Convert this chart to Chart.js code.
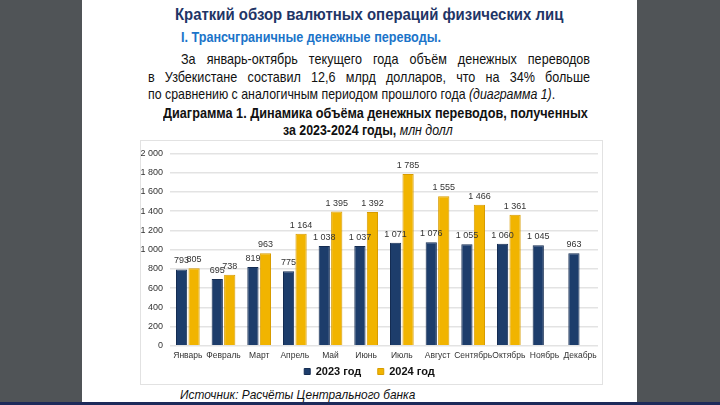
<!DOCTYPE html>
<html>
<head>
<meta charset="utf-8">
<script src="https://cdn.jsdelivr.net/npm/chart.js@4.4.1/dist/chart.umd.min.js"></script>
<style>
  html, body { margin: 0; padding: 0; }
  body { width: 720px; height: 405px; background: #505457; position: relative; overflow: hidden; }
  #page { position: absolute; left: 82px; top: 0; width: 555px; height: 405px; background: #fff; }
  #bottomline { position: absolute; left: 0; top: 402px; width: 720px; height: 3px; background: #1d2a5a; }
  .t { position: absolute; font-family: "Liberation Sans", Arial, sans-serif; white-space: nowrap; transform-origin: 0 0; }
  .j { position: absolute; font-family: "Liberation Sans", Arial, sans-serif; text-align: justify; text-align-last: justify; white-space: normal; transform-origin: 0 0; color: #111; }
  #box { position: absolute; left: 58px; top: 140px; width: 461px; height: 243px; border: 1px solid #e2e2e2; }
</style>
</head>
<body>
<div id="page">
  <div class="t" data-x="93" data-y="14" data-w="388" data-f="17" style="font-weight:bold;color:#1f3566">Краткий обзор валютных операций физических лиц</div>
  <div class="t" data-x="99" data-y="36" data-w="260" data-f="15" style="font-weight:bold;color:#1b74c9">I. Трансчграничные денежные переводы.</div>
  <div class="j" data-x="99" data-y="58" data-w="409" data-f="15">За январь-октябрь текущего года объём денежных переводов</div>
  <div class="j" data-x="66" data-y="76" data-w="442" data-f="15">в Узбекистане составил 12,6 млрд долларов, что на 34% больше</div>
  <div class="t" data-x="66" data-y="93" data-w="407" data-f="15" style="color:#111">по сравнению с аналогичным периодом прошлого года <i>(диаграмма 1)</i>.</div>
  <div class="t" data-x="81" data-y="112" data-w="425" data-f="15" style="font-weight:bold;color:#111">Диаграмма 1. Динамика объёма денежных переводов, полученных</div>
  <div class="t" data-x="201" data-y="129" data-w="170" data-f="15" style="font-weight:bold;color:#111">за 2023-2024 годы, <i style="font-weight:normal">млн долл</i></div>
  <div id="box"><canvas id="chart" width="461" height="243"></canvas></div>
  <div class="t" data-x="98" data-y="394" data-w="235" data-f="13" style="font-style:italic;color:#111">Источник: Расчёты Центрального банка</div>
</div>
<div id="bottomline"></div>
<script>
var months = ["Январь", "Февраль", "Март", "Апрель", "Май", "Июнь", "Июль", "Август", "Сентябрь", "Октябрь", "Ноябрь", "Декабрь"];
var values2023 = [793, 695, 819, 775, 1038, 1037, 1071, 1076, 1055, 1060, 1045, 963];
var values2024 = [805, 738, 963, 1164, 1395, 1392, 1785, 1555, 1466, 1361, null, null];
var seriesNames = ["2023 год", "2024 год"];

// узкий шрифт документа: сжимаем текст по ширине
var NARROW = 0.84;
document.querySelectorAll(".t, .j").forEach(function(el) {
  var f = +el.dataset.f, w = +el.dataset.w;
  el.style.fontSize = f + "px";
  el.style.lineHeight = f + "px";
  el.style.left = el.dataset.x + "px";
  el.style.top = (+el.dataset.y - f / 2) + "px";
  if (el.classList.contains("j")) {
    el.style.width = (w / NARROW) + "px";
    el.style.transform = "scaleX(" + NARROW + ")";
  } else {
    var nat = el.scrollWidth;
    el.style.transform = "scaleX(" + (w / nat) + ")";
  }
});

function fmt(v) {
  return String(v).replace(/\B(?=(\d{3})+(?!\d))/g, " ");
}

// подписи значений над столбцами + компактная легенда
var valueLabels = {
  id: "valueLabels",
  beforeLayout: function(chart) {
    var lg = chart.legend;
    if (lg && !lg._fixed) {
      var fit = lg.fit;
      lg.fit = function() { fit.call(this); this.height = 18; };
      lg._fixed = true;
    }
  },
  afterDatasetsDraw: function(chart) {
    var ctx = chart.ctx;
    ctx.save();
    ctx.font = "9px 'Liberation Sans', Arial, sans-serif";
    ctx.fillStyle = "#333";
    ctx.textAlign = "center";
    ctx.textBaseline = "bottom";
    chart.data.datasets.forEach(function(ds, i) {
      chart.getDatasetMeta(i).data.forEach(function(bar, j) {
        if (ds.data[j] == null) return;
        ctx.fillText(fmt(ds.data[j]), bar.x, bar.y - 4);
      });
    });
    ctx.restore();
  }
};

var ctx = document.getElementById("chart");
new Chart(ctx, {
  type: "bar",
  data: {
    labels: months,
    datasets: [{
      label: seriesNames[0],
      data: values2023,
      backgroundColor: "#1d3d6b",
      borderColor: "#152d52",
      borderWidth: 1
    }, {
      label: seriesNames[1],
      data: values2024,
      backgroundColor: "#f1b400",
      borderColor: "#d89c00",
      borderWidth: 1
    }]
  },
  options: {
    responsive: false,
    animation: false,
    layout: { padding: { top: 7, right: 4, left: 0, bottom: 0 } },
    datasets: { bar: { categoryPercentage: 0.7, barPercentage: 0.9 } },
    plugins: {
      tooltip: { enabled: false },
      legend: {
        position: "bottom",
        labels: {
          boxWidth: 6, boxHeight: 6, padding: 0,
          color: "#111",
          font: { family: "'Liberation Sans', Arial, sans-serif", size: 11, weight: "bold" },
          generateLabels: function(chart) {
            var items = Chart.defaults.plugins.legend.labels.generateLabels(chart);
            items[0].text += "\u2002\u2002\u2002";
            return items;
          }
        }
      }
    },
    scales: {
      x: {
        grid: { display: false, drawTicks: false },
        border: { display: false },
        ticks: { color: "#333", font: { family: "'Liberation Sans', Arial, sans-serif", size: 8.5 }, maxRotation: 0, autoSkip: false, padding: 5 }
      },
      y: {
        min: 0, max: 2000,
        grid: { color: "#e3e3e3", lineWidth: 1.5, drawTicks: false },
        border: { display: false },
        afterFit: function(scale) { scale.width = 29; },
        ticks: { stepSize: 200, padding: 7, color: "#333", font: { family: "'Liberation Sans', Arial, sans-serif", size: 9 }, callback: function(v) { return fmt(v); } }
      }
    }
  },
  plugins: [valueLabels]
});
</script>
</body>
</html>
